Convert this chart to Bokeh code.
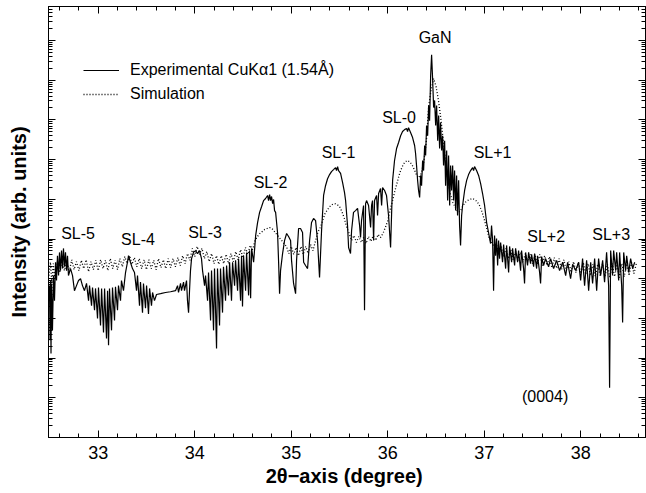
from bokeh.plotting import figure
from bokeh.models import (Range1d, LogAxis, LinearAxis, FixedTicker, Legend, LegendItem,
                          CustomJSTickFormatter)
from bokeh.core.properties import value
from bokeh.embed import file_html
from bokeh.resources import INLINE

# ---------------- data ----------------
exp_x = [
    32.490, 32.495, 32.501, 32.506, 32.511, 32.516, 32.526, 32.537, 32.547, 32.558,
    32.568, 32.578, 32.589, 32.599, 32.609, 32.620, 32.630, 32.640, 32.651, 32.661,
    32.672, 32.682, 32.692, 32.713, 32.734, 32.754, 32.775, 32.796, 32.817, 32.837,
    32.858, 32.879, 32.900, 32.910, 32.931, 32.941, 32.962, 32.972, 32.993, 33.003,
    33.024, 33.035, 33.055, 33.066, 33.086, 33.097, 33.107, 33.117, 33.138, 33.148,
    33.169, 33.179, 33.200, 33.210, 33.231, 33.241, 33.262, 33.283, 33.303, 33.314,
    33.334, 33.355, 33.376, 33.397, 33.407, 33.428, 33.438, 33.459, 33.469, 33.490,
    33.501, 33.521, 33.532, 33.552, 33.563, 33.583, 33.604, 33.646, 33.697, 33.749,
    33.801, 33.822, 33.832, 33.853, 33.863, 33.884, 33.894, 33.915, 33.925, 33.936,
    33.946, 33.956, 33.967, 33.987, 34.008, 34.029, 34.050, 34.070, 34.081, 34.102,
    34.112, 34.133, 34.143, 34.164, 34.174, 34.195, 34.205, 34.226, 34.236, 34.257,
    34.267, 34.288, 34.298, 34.319, 34.330, 34.350, 34.361, 34.381, 34.392, 34.413,
    34.423, 34.444, 34.454, 34.475, 34.485, 34.495, 34.506, 34.527, 34.537, 34.558,
    34.568, 34.579, 34.589, 34.610, 34.631, 34.651, 34.672, 34.693, 34.713, 34.734,
    34.755, 34.765, 34.776, 34.786, 34.796, 34.807, 34.817, 34.827, 34.838, 34.848,
    34.858, 34.869, 34.879, 34.889, 34.910, 34.931, 34.952, 34.972, 34.993, 35.003,
    35.024, 35.045, 35.055, 35.076, 35.096, 35.117, 35.128, 35.148, 35.169, 35.190,
    35.210, 35.231, 35.252, 35.272, 35.293, 35.314, 35.335, 35.355, 35.376, 35.397,
    35.417, 35.438, 35.459, 35.469, 35.480, 35.490, 35.511, 35.532, 35.552, 35.563,
    35.583, 35.594, 35.614, 35.625, 35.645, 35.666, 35.687, 35.708, 35.718, 35.728,
    35.749, 35.759, 35.770, 35.780, 35.801, 35.822, 35.832, 35.842, 35.853, 35.863,
    35.884, 35.894, 35.905, 35.925, 35.936, 35.946, 35.967, 35.987, 36.008, 36.029,
    36.039, 36.050, 36.070, 36.091, 36.112, 36.133, 36.153, 36.174, 36.195, 36.205,
    36.215, 36.236, 36.257, 36.278, 36.288, 36.298, 36.309, 36.319, 36.330, 36.340,
    36.350, 36.361, 36.371, 36.382, 36.392, 36.402, 36.413, 36.423, 36.433, 36.444,
    36.454, 36.465, 36.475, 36.485, 36.496, 36.506, 36.517, 36.527, 36.537, 36.547,
    36.558, 36.568, 36.578, 36.589, 36.599, 36.610, 36.620, 36.630, 36.641, 36.651,
    36.661, 36.672, 36.682, 36.692, 36.703, 36.713, 36.723, 36.734, 36.744, 36.754,
    36.765, 36.775, 36.796, 36.817, 36.837, 36.858, 36.879, 36.889, 36.899, 36.920,
    36.941, 36.962, 36.982, 37.003, 37.024, 37.044, 37.065, 37.075, 37.086, 37.096,
    37.106, 37.117, 37.127, 37.138, 37.148, 37.158, 37.169, 37.189, 37.200, 37.221,
    37.231, 37.252, 37.262, 37.283, 37.293, 37.314, 37.324, 37.345, 37.355, 37.376,
    37.386, 37.407, 37.417, 37.428, 37.448, 37.459, 37.479, 37.490, 37.511, 37.521,
    37.542, 37.552, 37.573, 37.583, 37.594, 37.614, 37.635, 37.666, 37.687, 37.718,
    37.749, 37.780, 37.812, 37.843, 37.863, 37.894, 37.915, 37.946, 37.977, 37.998,
    38.018, 38.039, 38.060, 38.081, 38.102, 38.122, 38.143, 38.164, 38.184, 38.205,
    38.226, 38.246, 38.267, 38.288, 38.298, 38.309, 38.329, 38.340, 38.361, 38.371,
    38.392, 38.402, 38.423, 38.433, 38.444, 38.464, 38.475, 38.496, 38.516, 38.537,
    38.558,
]
exp_i = [
    2.8e3, 6.7e3, 2.8e2, 9.0e3, 1.3e2, 7.6e3, 5.0e2, 1.2e4, 2.8e3, 2.6e4,
    9.0e3, 3.8e4, 1.2e4, 4.6e4, 1.6e4, 5.1e4, 1.8e4, 5.8e4, 2.0e4, 4.6e4,
    1.6e4, 3.8e4, 1.2e4, 1.8e4, 1.2e4, 5.0e3, 6.7e3, 9.0e3, 1.0e4, 6.7e3,
    5.0e3, 7.6e3, 2.8e3, 6.7e3, 2.1e3, 6.0e3, 1.6e3, 5.7e3, 1.0e3, 6.0e3,
    6.6e2, 5.7e3, 4.4e2, 5.7e3, 3.1e2, 5.0e3, 2.1e2, 5.7e3, 5.0e2, 6.0e3,
    8.9e2, 6.3e3, 1.6e3, 6.7e3, 2.8e3, 9.0e3, 5.0e3, 1.43e4, 2.6e4, 3.8e4,
    2.6e4, 1.8e4, 1.43e4, 5.0e3, 1.2e4, 2.1e3, 8.2e3, 1.4e3, 7.6e3, 1.8e3,
    6.7e3, 1.3e3, 5.7e3, 2.1e3, 4.5e3, 2.8e3, 4.0e3, 4.2e3, 4.5e3, 4.7e3,
    5.0e3, 6.7e3, 4.5e3, 7.6e3, 5.0e3, 8.2e3, 5.0e3, 9.0e3, 2.8e3, 1.4e3,
    5.0e3, 1.6e4, 3.2e4, 4.6e4, 5.1e4, 4.3e4, 5.1e4, 3.2e4, 1.6e4, 6.7e3,
    1.2e4, 2.8e3, 1.43e4, 8.9e2, 1.6e4, 5.0e2, 1.8e4, 1.75e2, 1.8e4, 6.6e2,
    1.8e4, 1.4e3, 2.0e4, 2.8e3, 2.15e4, 3.8e3, 2.6e4, 2.8e3, 2.6e4, 6.7e3,
    2.9e4, 5.0e3, 3.2e4, 2.8e3, 3.8e4, 2.0e3, 3.8e4, 5.0e3, 4.6e4, 3.8e3,
    5.1e4, 3.2e3, 5.8e4, 2.6e4, 1.22e5, 2.6e5, 4.7e5, 6.6e5, 9.3e5, 1.05e6,
    1.25e6, 9.3e5, 1.32e6, 9.3e5, 1.18e6, 7.8e5, 9.9e5, 5.2e5, 4.7e5, 2.6e5,
    1.46e5, 2.6e4, 4.2e3, 1.6e4, 4.3e4, 9.2e4, 1.38e5, 1.16e5, 9.2e4, 2.9e4,
    7.6e3, 4.2e3, 2.9e4, 1.84e5, 1.84e5, 1.46e5, 2.6e4, 2.15e4, 1.8e4, 9.2e4,
    2.6e5, 3.3e5, 2.9e5, 9.2e4, 1.07e4, 1.64e5, 1.25e6, 2.2e6, 3.3e6, 4.2e6,
    5.0e6, 5.6e6, 6.3e6, 5.3e6, 6.7e6, 5.3e6, 4.5e6, 2.65e6, 1.48e6, 9.3e5,
    2.19e5, 6.1e4, 4.3e4, 1.64e5, 4.7e5, 5.2e5, 5.9e5, 2.19e5, 1.09e5, 2.9e5,
    7.0e5, 1.6e3, 7.8e5, 9.3e5, 7.0e5, 1.95e5, 7.0e5, 9.3e5, 9.2e4, 9.3e5,
    1.25e6, 3.9e5, 1.40e6, 1.87e6, 7.0e5, 1.98e6, 1.67e6, 1.25e6, 3.9e5, 6.1e4,
    3.9e5, 3.0e6, 9.5e6, 1.9e7, 2.7e7, 4.0e7, 5.1e7, 5.7e7, 6.1e7, 5.1e7,
    6.4e7, 4.8e7, 3.6e7, 2.27e7, 1.43e7, 7.1e6, 3.0e6, 1.67e6, 1.11e6, 4.0e6,
    2.2e6, 9.5e6, 5.3e6, 2.27e7, 1.27e7, 7.2e7, 4.0e7, 2.3e8, 9.6e7, 1.3e9,
    4.4e9, 9.8e8, 2.05e8, 3.1e8, 7.2e7, 2.3e8, 3.0e7, 1.3e8, 1.9e7, 8.6e7,
    1.7e7, 4.0e7, 7.1e6, 3.0e7, 2.2e6, 1.7e7, 9.3e5, 1.27e7, 7.0e5, 7.1e6,
    1.67e6, 7.1e6, 9.3e5, 5.3e6, 5.2e5, 4.0e6, 3.9e5, 3.0e6, 2.19e5, 6.9e4,
    3.9e5, 7.0e5, 1.67e6, 3.0e6, 4.2e6, 5.3e6, 6.3e6, 5.3e6, 6.7e6, 5.3e6,
    4.0e6, 2.5e6, 1.40e6, 7.0e5, 2.6e5, 1.46e5, 7.7e4, 2.19e5, 9.2e4, 5.0e3,
    1.22e5, 3.8e4, 1.03e5, 2.15e4, 9.2e4, 3.2e4, 8.2e4, 2.6e4, 7.3e4, 1.8e4,
    6.9e4, 1.43e4, 6.5e4, 2.6e4, 5.8e4, 2.15e4, 5.8e4, 2.6e4, 5.1e4, 1.6e4,
    5.1e4, 1.8e4, 7.6e3, 4.6e4, 2.15e4, 4.6e4, 2.4e4, 4.1e4, 2.0e4, 4.3e4,
    1.8e4, 3.8e4, 1.43e4, 7.6e3, 3.6e4, 2.15e4, 3.2e4, 2.0e4, 3.2e4, 1.8e4,
    2.9e4, 1.6e4, 2.6e4, 1.2e4, 2.6e4, 1.0e4, 2.3e4, 1.6e4, 2.6e4, 9.0e3,
    3.2e4, 6.7e3, 2.9e4, 5.0e3, 2.6e4, 7.6e3, 3.2e4, 5.0e3, 3.2e4, 1.2e4,
    2.9e4, 8.2e3, 4.6e4, 6.7e3, 18, 5.1e4, 1.2e4, 5.1e4, 1.6e4, 4.6e4,
    9.0e3, 4.6e4, 6.7e3, 7.9e2, 4.6e4, 1.6e4, 3.8e4, 1.43e4, 3.2e4, 1.8e4,
    2.6e4,
]

sim_x = [
    32.490, 32.505, 32.520, 32.535, 32.550, 32.575, 32.600, 32.625, 32.650, 32.675,
    32.700, 32.725, 32.750, 32.775, 32.800, 32.825, 32.850, 32.875, 32.900, 32.925,
    32.950, 32.975, 33.000, 33.025, 33.050, 33.075, 33.100, 33.125, 33.150, 33.175,
    33.200, 33.225, 33.250, 33.275, 33.300, 33.325, 33.350, 33.375, 33.400, 33.425,
    33.450, 33.475, 33.500, 33.525, 33.550, 33.575, 33.600, 33.625, 33.650, 33.675,
    33.700, 33.725, 33.750, 33.775, 33.800, 33.825, 33.850, 33.875, 33.900, 33.925,
    33.950, 33.975, 34.000, 34.025, 34.050, 34.075, 34.100, 34.125, 34.150, 34.175,
    34.200, 34.225, 34.250, 34.275, 34.300, 34.325, 34.350, 34.375, 34.400, 34.425,
    34.450, 34.475, 34.500, 34.525, 34.550, 34.575, 34.600, 34.625, 34.650, 34.675,
    34.700, 34.725, 34.750, 34.775, 34.800, 34.825, 34.850, 34.875, 34.900, 34.925,
    34.950, 34.975, 35.000, 35.025, 35.050, 35.075, 35.100, 35.125, 35.150, 35.175,
    35.200, 35.225, 35.250, 35.275, 35.300, 35.325, 35.350, 35.375, 35.400, 35.425,
    35.450, 35.475, 35.500, 35.525, 35.550, 35.575, 35.600, 35.625, 35.650, 35.675,
    35.700, 35.725, 35.750, 35.775, 35.800, 35.825, 35.850, 35.875, 35.900, 35.925,
    35.950, 35.975, 36.000, 36.025, 36.050, 36.075, 36.100, 36.125, 36.150, 36.175,
    36.200, 36.225, 36.250, 36.275, 36.300, 36.325, 36.350, 36.375, 36.400, 36.425,
    36.450, 36.475, 36.500, 36.525, 36.550, 36.575, 36.600, 36.625, 36.650, 36.675,
    36.700, 36.725, 36.750, 36.775, 36.800, 36.825, 36.850, 36.875, 36.900, 36.925,
    36.950, 36.975, 37.000, 37.025, 37.050, 37.075, 37.100, 37.125, 37.150, 37.175,
    37.200, 37.225, 37.250, 37.275, 37.300, 37.325, 37.350, 37.375, 37.400, 37.425,
    37.450, 37.475, 37.500, 37.525, 37.550, 37.575, 37.600, 37.625, 37.650, 37.675,
    37.700, 37.725, 37.750, 37.775, 37.800, 37.825, 37.850, 37.875, 37.900, 37.925,
    37.950, 37.975, 38.000, 38.025, 38.050, 38.075, 38.100, 38.125, 38.150, 38.175,
    38.200, 38.225, 38.250, 38.275, 38.300, 38.325, 38.350, 38.375, 38.400, 38.425,
    38.450, 38.475, 38.500, 38.525, 38.550, 38.575,
]
sim_i = [
    1.2e4, 2.6e4, 7.6e3, 2.4e4, 1.0e4, 2.7e4, 1.43e4, 2.9e4, 1.6e4, 2.7e4,
    1.5e4, 3.0e4, 1.7e4, 2.7e4, 1.6e4, 2.9e4, 1.8e4, 3.0e4, 1.5e4, 2.7e4,
    1.7e4, 2.9e4, 1.6e4, 3.0e4, 1.8e4, 2.9e4, 1.6e4, 3.2e4, 1.8e4, 2.9e4,
    1.7e4, 3.2e4, 2.0e4, 3.6e4, 2.4e4, 3.8e4, 2.3e4, 3.4e4, 2.0e4, 3.2e4,
    1.8e4, 3.0e4, 1.7e4, 3.0e4, 1.8e4, 2.9e4, 1.7e4, 3.2e4, 1.9e4, 3.0e4,
    1.8e4, 3.2e4, 1.9e4, 3.2e4, 2.0e4, 3.4e4, 2.15e4, 3.8e4, 2.4e4, 4.3e4,
    2.9e4, 5.8e4, 3.6e4, 6.5e4, 4.1e4, 5.8e4, 3.2e4, 4.8e4, 2.7e4, 4.3e4,
    2.4e4, 3.8e4, 2.3e4, 3.8e4, 2.4e4, 4.1e4, 2.4e4, 4.3e4, 2.7e4, 4.8e4,
    3.0e4, 5.4e4, 3.4e4, 6.1e4, 4.1e4, 6.9e4, 5.4e4, 9.2e4, 1.16e5, 1.38e5,
    1.55e5, 1.74e5, 1.84e5, 1.95e5, 1.84e5, 1.55e5, 1.3e5, 1.09e5, 9.2e4, 7.7e4,
    6.5e4, 4.3e4, 6.5e4, 4.1e4, 6.1e4, 3.8e4, 6.5e4, 4.1e4, 6.5e4, 4.3e4,
    7.3e4, 5.1e4, 8.7e4, 1.46e5, 1.95e5, 2.9e5, 4.4e5, 5.5e5, 6.6e5, 7.4e5,
    7.8e5, 7.4e5, 6.6e5, 4.9e5, 3.3e5, 1.95e5, 1.38e5, 9.2e4, 1.22e5, 8.2e4,
    1.16e5, 8.2e4, 1.09e5, 7.7e4, 1.16e5, 8.7e4, 1.22e5, 9.2e4, 1.3e5, 1.09e5,
    1.38e5, 1.95e5, 2.9e5, 5.5e5, 9.3e5, 1.67e6, 2.8e6, 4.7e6, 6.7e6, 8.5e6,
    9.5e6, 8.9e6, 7.5e6, 5.6e6, 4.0e6, 3.5e6, 4.7e6, 9.5e6, 3.0e7, 2.3e8,
    6.0e8, 1.1e9, 7.0e8, 3.1e8, 1.08e8, 3.0e7, 8.5e6, 2.65e6, 1.32e6, 8.3e5,
    6.2e5, 4.9e5, 4.9e5, 6.6e5, 8.3e5, 9.3e5, 9.9e5, 1.05e6, 9.9e5, 8.8e5,
    7.0e5, 4.9e5, 3.1e5, 1.84e5, 1.09e5, 8.2e4, 6.5e4, 7.3e4, 4.1e4, 6.5e4,
    3.6e4, 5.8e4, 3.2e4, 5.4e4, 3.0e4, 4.8e4, 2.9e4, 4.6e4, 2.6e4, 4.3e4,
    2.6e4, 4.1e4, 2.4e4, 4.1e4, 2.3e4, 4.1e4, 2.15e4, 3.8e4, 2.15e4, 3.6e4,
    1.9e4, 3.4e4, 1.8e4, 3.2e4, 1.7e4, 3.0e4, 1.6e4, 2.7e4, 1.43e4, 2.7e4,
    1.43e4, 2.6e4, 1.35e4, 2.6e4, 1.28e4, 2.4e4, 1.2e4, 2.3e4, 1.14e4, 2.3e4,
    1.2e4, 2.4e4, 1.13e4, 2.3e4, 1.07e4, 2.4e4, 1.13e4, 2.3e4, 1.07e4, 2.4e4,
    1.13e4, 2.6e4, 1.2e4, 2.6e4, 1.35e4, 2.4e4,
]

x_major_ticks = [33, 34, 35, 36, 37, 38]
peak_labels = ["SL-5", "SL-4", "SL-3", "SL-2", "SL-1", "SL-0", "GaN", "SL+1", "SL+2", "SL+3", "(0004)"]
label_x = [32.791, 33.412, 34.107, 34.786, 35.490, 36.117, 36.490, 37.086, 37.641, 38.314, 37.630]
label_y = [1.38e5, 9.7e4, 1.5e5, 2.58e6, 1.51e7, 1.18e8, 1.16e10, 1.51e7, 1.16e5, 1.3e5, 10.5]

# ---------------- figure ----------------
FONT = "Liberation Sans"
p = figure(width=646, height=493, x_range=Range1d(32.485, 38.67), y_range=Range1d(1, 7.2e10),
           y_axis_type="log", output_backend="svg", toolbar_location=None,
           min_border_left=48, min_border_right=1, min_border_top=6, min_border_bottom=56)
p.xgrid.visible = False
p.ygrid.visible = False
p.outline_line_color = "black"
p.outline_line_width = 1
p.background_fill_color = "white"
p.border_fill_color = "white"

x_minor = [round(32.6 + 0.2 * k, 1) for k in range(31)]
xticker = FixedTicker(ticks=x_major_ticks, minor_ticks=x_minor)
y_major = [10.0 ** n for n in range(0, 11)]
y_minor = [m * 10.0 ** n for n in range(0, 11) for m in range(2, 10)]
yticker = FixedTicker(ticks=y_major, minor_ticks=y_minor)
blank = CustomJSTickFormatter(code="return ''")

xa = p.below[0]
ya = p.left[0]
xa.ticker = xticker
ya.ticker = yticker
ya.formatter = blank
ya.major_label_text_font_size = "1px"
ya.major_label_standoff = 0

top = LinearAxis(ticker=xticker, formatter=blank, major_label_text_font_size="1px",
                 major_label_standoff=0)
right = LogAxis(ticker=yticker, formatter=blank, major_label_text_font_size="1px",
                major_label_standoff=0)
p.add_layout(top, "above")
p.add_layout(right, "right")

for ax in (xa, ya, top, right):
    ax.major_tick_in = 7
    ax.major_tick_out = 0
    ax.minor_tick_in = 4
    ax.minor_tick_out = 0
    ax.axis_line_color = "black"
    ax.major_tick_line_color = "black"
    ax.minor_tick_line_color = "black"

xa.major_label_text_font = FONT
xa.major_label_text_font_size = "18px"
xa.major_label_text_color = "black"
xa.major_label_standoff = 8
xa.axis_label = "2θ−axis  (degree)"
xa.axis_label_text_font = FONT
xa.axis_label_text_font_size = "20px"
xa.axis_label_text_font_style = "bold"
xa.axis_label_text_color = "black"
xa.axis_label_standoff = 3

ya.axis_label = "Intensity (arb. units)"
ya.axis_label_text_font = FONT
ya.axis_label_text_font_size = "20px"
ya.axis_label_text_font_style = "bold"
ya.axis_label_text_color = "black"
ya.axis_label_standoff = 19

r_exp = p.line(exp_x, exp_i, line_color="black", line_width=1.2)
r_sim = p.line(sim_x, sim_i, line_color="black", line_width=1.3, line_dash="1 2")

p.text(x=label_x, y=label_y, text=peak_labels, text_font=value(FONT), text_font_size="16px",
       text_align="center", text_baseline="middle", text_color="black")

legend = Legend(items=[LegendItem(label="Experimental CuKα1 (1.54Å)", renderers=[r_exp]),
                       LegendItem(label="Simulation", renderers=[r_sim])],
                location=(35, 333), padding=0, margin=0, spacing=4,
                glyph_width=36, glyph_height=20, label_height=20, label_standoff=11,
                label_text_font=FONT, label_text_font_size="16px", label_text_color="black",
                border_line_alpha=0, background_fill_alpha=0)
p.add_layout(legend)

open("out.html", "w").write(file_html(p, INLINE))
